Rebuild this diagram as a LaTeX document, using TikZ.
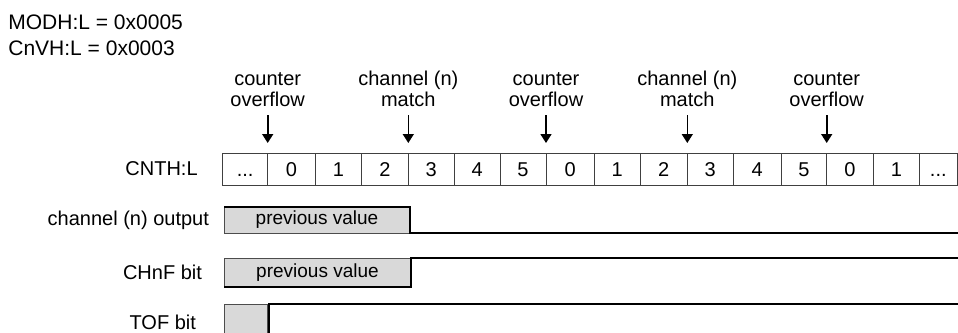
\documentclass[tikz,border=0pt]{standalone}
\usepackage{fontspec}
\setmainfont{Liberation Sans}
\usetikzlibrary{arrows.meta,positioning}

\begin{document}
\begin{tikzpicture}[x=0.5pt,y=-0.5pt,>={Triangle[length=4.5pt,width=5.5pt]},
  font=\fontsize{10}{10.5}\selectfont,
  cell/.style={draw=black!75,line width=0.5pt,fill=white,minimum height=16pt,inner sep=0pt,outer sep=0pt,
    text height=7.2pt,text depth=0pt},
  valbox/.style={draw=black!70,line width=0.5pt,fill=black!15,inner sep=0pt,outer sep=0pt,font=\fontsize{9.5}{10}\selectfont},
  signal/.style={line width=0.9pt,line join=miter},
  evtlabel/.style={align=center,inner sep=0pt},
  evt/.style={->,line width=0.8pt,shorten <=4pt,shorten >=5pt}]
\useasboundingbox (0,0) rectangle (958,332);

% register values
\node[anchor=base west,inner sep=0pt,font=\fontsize{10.5}{12}\selectfont] (modh) at (8,29) {MODH:L = 0x0005};
\node[anchor=base west,inner sep=0pt,font=\fontsize{10.5}{12}\selectfont] (cnvh) at (8,55) {CnVH:L = 0x0003};

% counter cells
\foreach \i/\l/\r/\t in {0/222.7/267.7/{.{}.{}.},1/267.7/315.3/0,2/315.3/361.7/1,3/361.7/408.3/2,
  4/408.3/454.3/3,5/454.3/500/4,6/500/546/5,7/546/594.3/0,8/594.3/640/1,9/640/687.3/2,
  10/687.3/733.3/3,11/733.3/781/4,12/781/826.7/5,13/826.7/873.3/0,14/873.3/919.3/1,15/919.3/957.3/{.{}.{}.}}
  \node[cell,minimum width={(\r-\l)*0.5pt}] (c\i) at ({(\l+\r)/2},169) {\t};
\node[left=9pt of c0] (cnth) {CNTH:L};

% events
\foreach \i/\t in {1/{counter\\overflow},4/{channel (n)\\match},7/{counter\\overflow},
  10/{channel (n)\\match},13/{counter\\overflow}}{
  \node[evtlabel,above=23pt of c\i.north west] (ev\i) {\t};
  \draw[evt] (ev\i.south) -- (c\i.north west);
}

% channel (n) output
\node[valbox,minimum width=93pt,minimum height=13pt] (outprev) at (317,220) {previous value};
\node[left=4pt of outprev] (outlbl) {channel (n) output};
\coordinate (outend) at (958,233);
\draw[signal] (outprev.north west) -- (outprev.north east) -- (outprev.south east) -- (outend);

% CHnF bit
\node[valbox,minimum width=93.5pt,minimum height=14.5pt] (chfprev) at (317.5,272.5) {previous value};
\node[left=7.5pt of chfprev] (chflbl) {CHnF bit};
\coordinate (chfend) at (958,258);
\draw[signal] (chfprev.south west) -- (chfprev.south east) -- (chfprev.north east) -- (chfend);

% TOF bit
\node[valbox,minimum width=21.5pt,minimum height=16pt] (tofprev) at (245.5,320) {};
\node[left=10.5pt of tofprev,yshift=-1pt] (toflbl) {TOF bit};
\coordinate (tofend) at (958,304);
\draw[signal] ([xshift=1pt]tofprev.south east) -- ([xshift=1pt]tofprev.north east) -- (tofend);
\end{tikzpicture}
\end{document}
